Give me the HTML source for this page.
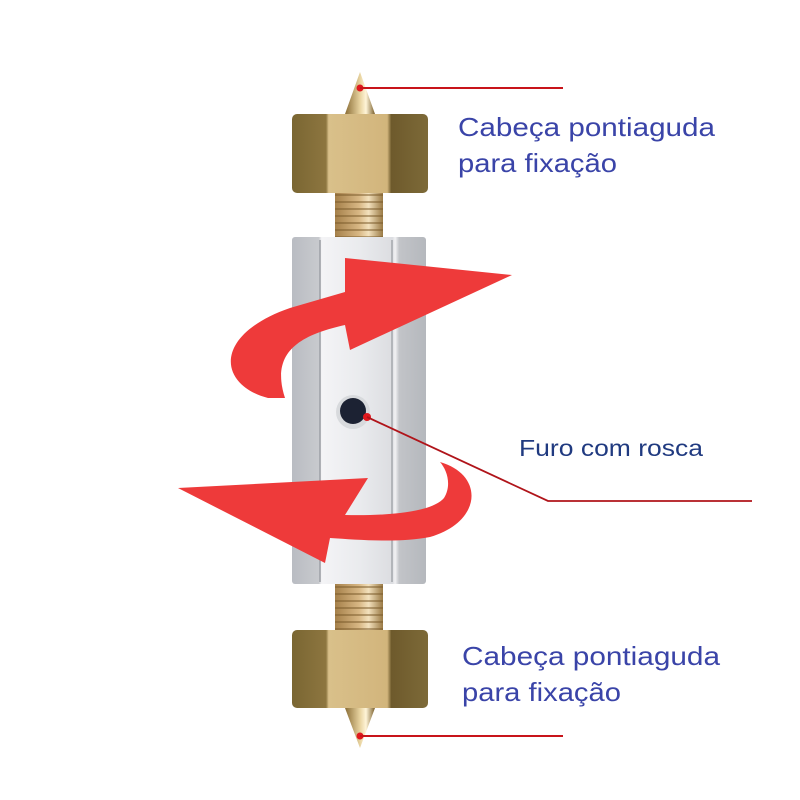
<!DOCTYPE html>
<html><head><meta charset="utf-8"><style>
body{margin:0;background:#fff;}
svg{display:block}
text{font-family:"Liberation Sans",sans-serif;}
</style></head><body>
<svg width="800" height="800" viewBox="0 0 800 800" xmlns="http://www.w3.org/2000/svg">
<defs>
<linearGradient id="brass" x1="0" x2="1">
<stop offset="0" stop-color="#7a6632"/><stop offset=".25" stop-color="#8d7640"/><stop offset=".27" stop-color="#d9c08a"/><stop offset=".7" stop-color="#d2b57c"/><stop offset=".73" stop-color="#6e5a2c"/><stop offset="1" stop-color="#7d6a38"/>
</linearGradient>
<linearGradient id="thread" x1="0" x2="1">
<stop offset="0" stop-color="#a5804a"/><stop offset=".5" stop-color="#d8b784"/><stop offset=".7" stop-color="#f3e1bd"/><stop offset="1" stop-color="#9a7a45"/>
</linearGradient>
<pattern id="thr" width="10" height="7" patternUnits="userSpaceOnUse"><rect width="10" height="7" fill="none"/><rect y="5" width="10" height="2" fill="#7a5a2a" opacity=".5"/></pattern>
<linearGradient id="alu" x1="0" x2="1">
<stop offset="0" stop-color="#b9bcc2"/><stop offset=".2" stop-color="#c8cace"/><stop offset=".22" stop-color="#f4f4f6"/><stop offset=".5" stop-color="#eaebee"/><stop offset=".75" stop-color="#dcdde1"/><stop offset=".77" stop-color="#f2f2f4"/><stop offset=".8" stop-color="#c2c4c8"/><stop offset="1" stop-color="#b5b8bd"/>
</linearGradient>
<linearGradient id="cone" x1="0" x2="1">
<stop offset="0" stop-color="#8a6d35"/><stop offset=".5" stop-color="#e8d3a0"/><stop offset=".7" stop-color="#fff5d8"/><stop offset="1" stop-color="#7a5e2a"/>
</linearGradient>
</defs>
<polygon points="360,72 345,114 375,114" fill="url(#cone)"/>
<rect x="292" y="114" width="136" height="79" rx="5" fill="url(#brass)"/>
<rect x="335" y="193" width="48" height="45" fill="url(#thread)"/>
<rect x="335" y="193" width="48" height="45" fill="url(#thr)"/>
<rect x="292" y="237" width="134" height="347" rx="3" fill="url(#alu)"/>
<line x1="320" y1="240" x2="320" y2="582" stroke="#9a9da3" stroke-width="1.5"/>
<line x1="392" y1="240" x2="392" y2="582" stroke="#a4a7ac" stroke-width="1.5"/>
<circle cx="353" cy="412" r="17" fill="#d8dadd"/>
<circle cx="353" cy="411" r="13" fill="#1c2233"/>
<rect x="335" y="584" width="48" height="47" fill="url(#thread)"/>
<rect x="335" y="584" width="48" height="47" fill="url(#thr)"/>
<rect x="292" y="630" width="136" height="78" rx="5" fill="url(#brass)"/>
<polygon points="345,708 375,708 360,748" fill="url(#cone)"/>
<path d="M268 398 C 218 385, 212 335, 290 308 L 345 292 L 345 258 L 512 275 L 350 350 L 345 325 C 300 335, 270 352, 285 398 Z" fill="#ee3a3a"/>
<path d="M440 462 C 485 475, 482 522, 430 537 C 400 543, 360 540, 330 538 L 325 563 L 178 488 L 368 478 L 345 515 C 390 516, 432 512, 444 498 C 452 485, 447 470, 440 462 Z" fill="#ee3a3a"/>
<circle cx="360" cy="88" r="3.5" fill="#e0191e"/>
<line x1="360" y1="88" x2="563" y2="88" stroke="#c8141a" stroke-width="2"/>
<circle cx="367" cy="417" r="4" fill="#e0191e"/>
<polyline points="367,417 548,501 752,501" fill="none" stroke="#b0141a" stroke-width="1.8"/>
<circle cx="360" cy="736" r="3.5" fill="#e0191e"/>
<line x1="360" y1="736" x2="563" y2="736" stroke="#c8141a" stroke-width="2"/>
<text x="458" y="136" font-size="26" fill="#3a44a8" textLength="257" lengthAdjust="spacingAndGlyphs">Cabeça pontiaguda</text>
<text x="458" y="172" font-size="26" fill="#3a44a8" textLength="159" lengthAdjust="spacingAndGlyphs">para fixação</text>
<text x="519" y="456" font-size="23" fill="#203a80" textLength="184" lengthAdjust="spacingAndGlyphs">Furo com rosca</text>
<text x="462" y="665" font-size="26" fill="#3a44a8" textLength="258" lengthAdjust="spacingAndGlyphs">Cabeça pontiaguda</text>
<text x="462" y="701" font-size="26" fill="#3a44a8" textLength="159" lengthAdjust="spacingAndGlyphs">para fixação</text>
</svg>
</body></html>
